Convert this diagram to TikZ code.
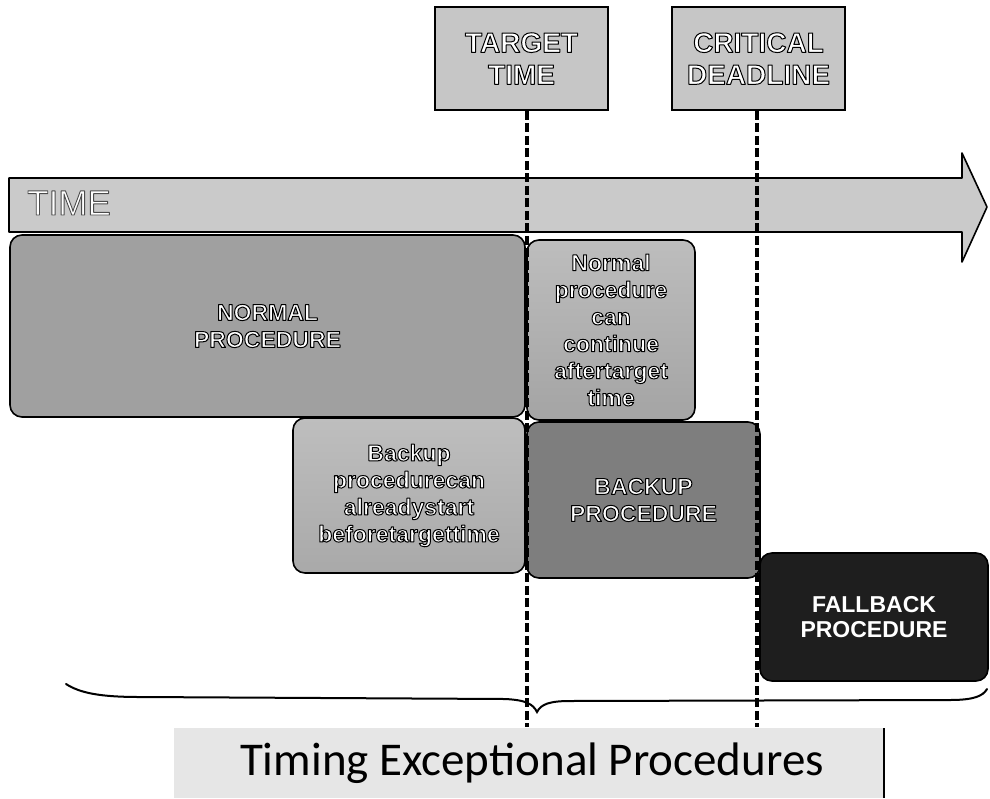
\documentclass[tikz,border=0pt]{standalone}
\usepackage{fontspec}
\setmainfont{Liberation Sans}
\newfontfamily\capfont{Carlito}
% outlined lettering: fill with the current colour, stroke in black
\newcommand{\olt}[1]{\special{pdf:literal direct 2 Tr 1.0 w 0 G 1 j}#1\special{pdf:literal direct 0 Tr}}
\newcommand{\thinolt}[1]{\special{pdf:literal direct 2 Tr 0.9 w 0.3 G 1 j}#1\special{pdf:literal direct 0 Tr}}

\definecolor{markfill}{HTML}{C6C6C6}
\definecolor{timefill}{HTML}{CACACA}
\definecolor{normalfill}{HTML}{A0A0A0}
\definecolor{conttop}{HTML}{BDBDBD}
\definecolor{contbot}{HTML}{A4A4A4}
\definecolor{earlytop}{HTML}{BEBEBE}
\definecolor{earlybot}{HTML}{A9A9A9}
\definecolor{backupfill}{HTML}{7E7E7E}
\definecolor{fallfill}{HTML}{1E1E1E}
\definecolor{capfill}{HTML}{E6E6E6}

\tikzset{
  marker/.style={draw=black, line width=1.8pt, fill=markfill,
    minimum width=173pt, minimum height=103pt, inner sep=0pt,
    align=center, text=white, font=\bfseries\fontsize{28}{32}\selectfont},
  procbox/.style={draw=black, line width=1.6pt, rounded corners=12pt,
    inner sep=0pt, align=center, text=white,
    font=\bfseries\fontsize{23}{27}\selectfont},
  deadline/.style={line width=3.4pt, dash pattern=on 9pt off 3.5pt},
}

\begin{document}
\begin{tikzpicture}[x=1pt,y=-1pt]
\useasboundingbox (0,0) rectangle (990,798);

% time axis
\draw[line width=1.6pt, line join=round, fill=timefill]
  (9,178) -- (962,178) -- (962,153) -- (987,207) -- (962,262)
  -- (962,232) -- (9,232) -- cycle;
\node[anchor=base west, inner sep=0pt, text=white,
  font=\fontsize{35}{40}\selectfont] (timelabel) at (27,215) {\thinolt{TIME}};

% milestone boxes
\node[marker] (target) at (521.5,58.5) {\olt{TARGET}\\\olt{TIME}};
\node[marker] (critical) at (758.5,58.5) {\olt{CRITICAL}\\\olt{DEADLINE}};

% procedure blocks
\node[procbox, fill=normalfill, minimum width=515pt, minimum height=182pt]
  (normal) at (267.5,326) {\olt{NORMAL}\\\olt{PROCEDURE}};
\node[procbox, top color=conttop, bottom color=contbot,
  minimum width=168pt, minimum height=180pt]
  (cont) at (611,330)
  {\olt{Normal}\\\olt{procedure}\\\olt{can}\\\olt{continue}\\\olt{aftertarget}\\\olt{time}};
\node[procbox, top color=earlytop, bottom color=earlybot,
  minimum width=232pt, minimum height=155pt]
  (early) at (409,495.5)
  {\olt{Backup}\\\olt{procedurecan}\\\olt{alreadystart}\\\olt{beforetargettime}};
\node[procbox, fill=backupfill, minimum width=233pt, minimum height=156pt]
  (backup) at (643.5,500) {\olt{BACKUP}\\\olt{PROCEDURE}};
\node[procbox, fill=fallfill, minimum width=228pt, minimum height=128pt,
  font=\bfseries\fontsize{23}{25}\selectfont]
  (fallback) at (874,617) {FALLBACK\\PROCEDURE};

% caption panel
\fill[capfill] (174,728) rectangle (884,798);
\draw[line width=1.5pt] (884,728) -- (884,798);
\node[anchor=base, inner sep=0pt, font=\capfont\fontsize{47}{52}\selectfont]
  (caption) at (532,775) {Timing Exceptional Procedures};

% deadline markers
\coordinate (tend) at (527,727);
\coordinate (cend) at (757,727);
\draw[deadline] (target.south -| tend) -- (tend);
\draw[deadline] (critical.south -| cend) -- (cend);

% brace over the whole span
\draw[line width=2pt, line cap=round]
  (66,684) .. controls (80,693) and (100,697) .. (140,697)
  -- (505,699) .. controls (526,700) and (533,704) .. (537,712)
  .. controls (541,704) and (550,701) .. (570,701)
  -- (950,700) .. controls (974,700) and (983,696) .. (987,689);
\end{tikzpicture}
\end{document}
